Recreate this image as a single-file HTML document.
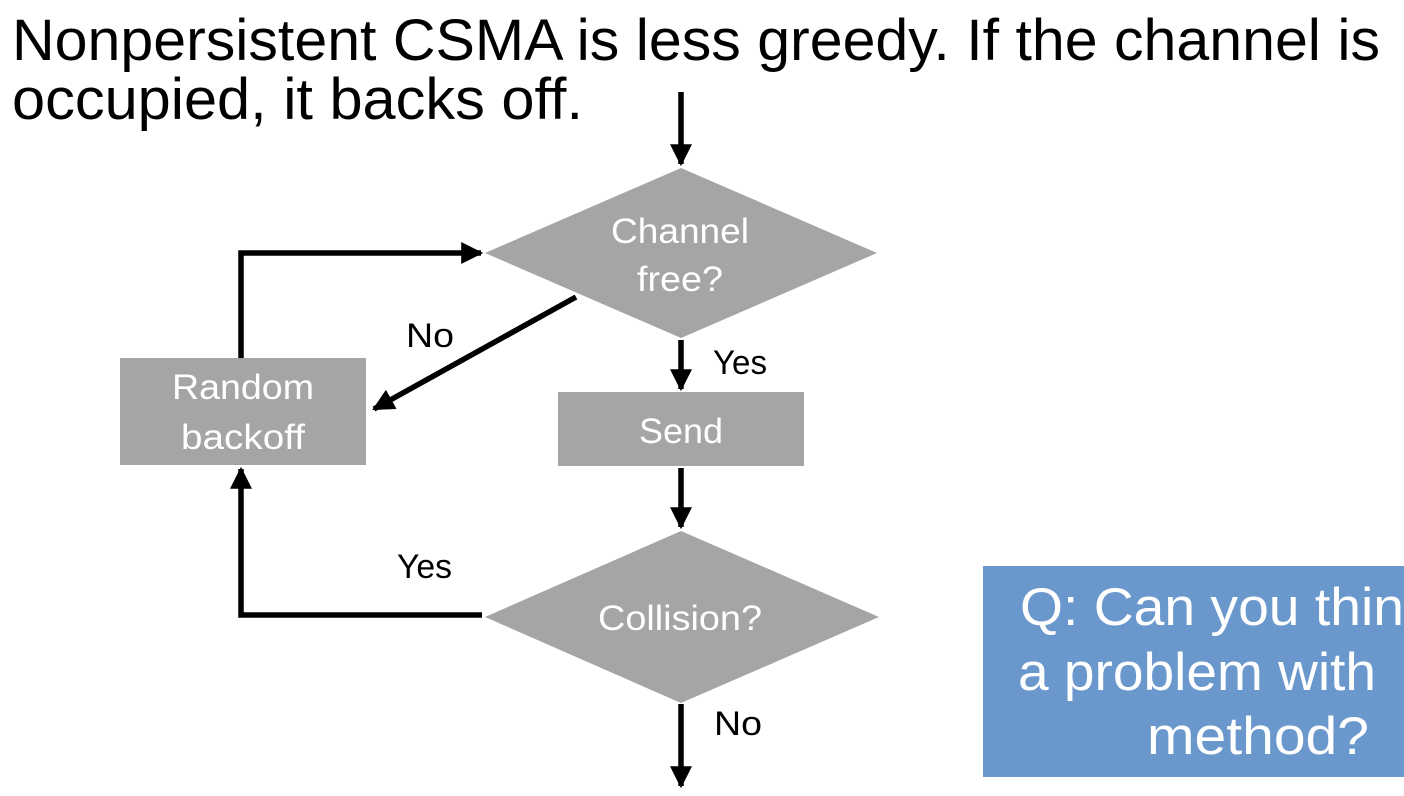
<!DOCTYPE html>
<html><head><meta charset="utf-8"><style>
html,body{margin:0;padding:0;background:#fff;width:1404px;height:796px;overflow:hidden}
svg{display:block}
</style></head><body>
<svg width="1404" height="796" viewBox="0 0 1404 796" xmlns="http://www.w3.org/2000/svg" font-family="'Liberation Sans', sans-serif">
<defs>
<marker id="a" viewBox="0 0 10 10" refX="9" refY="5" markerWidth="4" markerHeight="4" orient="auto" markerUnits="strokeWidth">
<path d="M0,0 L10,5 L0,10 z" fill="#000"/></marker>
</defs>
<text x="12" y="60" font-size="58" textLength="1368" lengthAdjust="spacingAndGlyphs" fill="#000">Nonpersistent CSMA is less greedy. If the channel is</text>
<text x="12" y="119" font-size="58" textLength="571" lengthAdjust="spacingAndGlyphs" fill="#000">occupied, it backs off.</text>

<polygon points="681,168 877,253 681,338 485,253" fill="#a5a5a5"/>
<polygon points="681,531 879,617 681,703 485,617" fill="#a5a5a5"/>
<rect x="120" y="358" width="246" height="107" fill="#a5a5a5"/>
<rect x="558" y="392" width="246" height="74" fill="#a5a5a5"/>

<g fill="#fff" font-size="35" text-anchor="middle">
<text x="680" y="243" textLength="138" lengthAdjust="spacingAndGlyphs">Channel</text>
<text x="680" y="291" textLength="86" lengthAdjust="spacingAndGlyphs">free?</text>
<text x="681" y="443" textLength="84" lengthAdjust="spacingAndGlyphs">Send</text>
<text x="243" y="399" textLength="142" lengthAdjust="spacingAndGlyphs">Random</text>
<text x="243" y="449" textLength="124" lengthAdjust="spacingAndGlyphs">backoff</text>
<text x="680" y="630" textLength="164" lengthAdjust="spacingAndGlyphs">Collision?</text>
</g>
<g fill="#000" font-size="34">
<text x="713" y="374" textLength="54" lengthAdjust="spacingAndGlyphs">Yes</text>
<text x="406" y="347" textLength="48" lengthAdjust="spacingAndGlyphs">No</text>
<text x="397" y="578" textLength="55" lengthAdjust="spacingAndGlyphs">Yes</text>
<text x="714" y="735" textLength="48" lengthAdjust="spacingAndGlyphs">No</text>
</g>

<g stroke="#000" stroke-width="5.5" fill="none">
<line x1="681" y1="92" x2="681" y2="164" marker-end="url(#a)"/>
<line x1="681" y1="340" x2="681" y2="389" marker-end="url(#a)"/>
<line x1="681" y1="468" x2="681" y2="527" marker-end="url(#a)"/>
<line x1="681" y1="704" x2="681" y2="786" marker-end="url(#a)"/>
<line x1="576" y1="297" x2="374" y2="409" marker-end="url(#a)"/>
<polyline points="241,358 241,253 481,253" marker-end="url(#a)"/>
<polyline points="482,615 241,615 241,469" marker-end="url(#a)"/>
</g>

<rect x="983" y="566" width="421" height="211" fill="#6a98cc"/>
<g fill="#fff" font-size="53">
<text x="1020" y="625" textLength="384" lengthAdjust="spacingAndGlyphs">Q: Can you thin</text>
<text x="1018" y="690" textLength="358" lengthAdjust="spacingAndGlyphs">a problem with</text>
<text x="1147" y="754" textLength="222" lengthAdjust="spacingAndGlyphs">method?</text>
</g>
</svg>
</body></html>
